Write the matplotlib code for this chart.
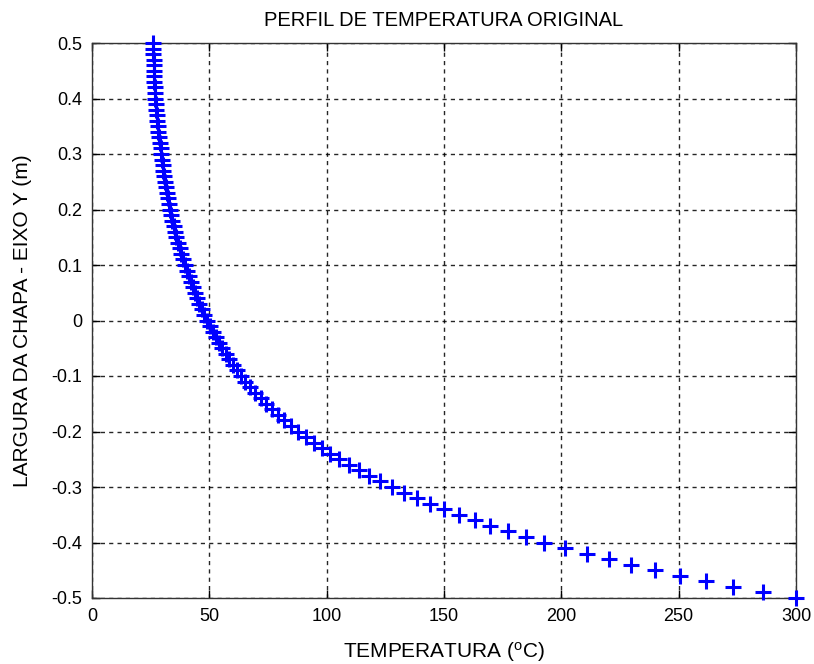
import matplotlib
matplotlib.use("Agg")
import matplotlib.pyplot as plt

plt.rcParams['font.family'] = ['Liberation Sans', 'DejaVu Sans']

# Plate width positions (m), from -0.5 to 0.5 in steps of 0.01
largura = [round(-0.5 + 0.01 * i, 2) for i in range(101)]

# Temperature (°C), bottom (-0.5) to top (0.5)
temp_seg1 = [300.0, 285.8, 273.3, 261.6, 250.5, 239.8, 229.6, 220.1, 210.8, 201.6]
temp_seg2 = [192.8, 184.8, 177.2, 169.8, 163.0, 156.4, 150.2, 144.2, 138.5, 133.0]
temp_seg3 = [127.8, 122.9, 118.2, 113.7, 109.5, 105.4, 101.6, 97.9, 94.4, 91.1]
temp_seg4 = [87.9, 84.9, 82.0, 79.3, 76.7, 74.2, 71.9, 69.6, 67.5, 65.4]
temp_seg5 = [63.5, 61.7, 60.0, 58.4, 56.9, 55.4, 54.0, 52.7, 51.4, 50.2]
temp_seg6 = [49.1, 47.9, 46.8, 45.7, 44.7, 43.8, 42.9, 42.0, 41.2, 40.4]
temp_seg7 = [39.6, 38.8, 38.0, 37.3, 36.6, 36.0, 35.4, 34.8, 34.3, 33.8]
temp_seg8 = [33.3, 32.8, 32.3, 31.9, 31.5, 31.1, 30.7, 30.4, 30.1, 29.8]
temp_seg9 = [29.5, 29.2, 28.9, 28.6, 28.3, 28.1, 27.8, 27.6, 27.3, 27.1]
temp_seg10 = [26.9, 26.8, 26.7, 26.6, 26.5, 26.4, 26.35, 26.3, 26.2, 26.15, 26.1]
temperatura = (temp_seg1 + temp_seg2 + temp_seg3 + temp_seg4 + temp_seg5 +
               temp_seg6 + temp_seg7 + temp_seg8 + temp_seg9 + temp_seg10)

x_ticks = [0, 50, 100, 150, 200, 250, 300]
y_ticks = [-0.5, -0.4, -0.3, -0.2, -0.1, 0, 0.1, 0.2, 0.3, 0.4, 0.5]
y_tick_labels = ['-0.5', '-0.4', '-0.3', '-0.2', '-0.1', '0', '0.1', '0.2', '0.3', '0.4', '0.5']

fig = plt.figure(figsize=(8.14, 6.64), dpi=100)
ax = fig.add_axes([92 / 814, 1 - 598 / 664, (796 - 92) / 814, (598 - 43) / 664])

ax.plot(temperatura, largura, linestyle='none', marker='+', color='#0000ff',
        markersize=11, markeredgewidth=2.2, clip_on=False, zorder=3)

ax.set_xlim(0, 300)
ax.set_ylim(-0.5, 0.5)
ax.set_xticks(x_ticks)
ax.set_xticklabels([str(v) for v in x_ticks])
ax.set_yticks(y_ticks)
ax.set_yticklabels(y_tick_labels)

ax.grid(True, color='black', linestyle=(0, (3, 3)), linewidth=1.0, alpha=0.85)
ax.tick_params(direction='in', top=True, right=True, length=6, width=1,
               labelsize=13, colors='black', pad=7)
for s in ax.spines.values():
    s.set_linewidth(1.0)
    s.set_color('#333333')

ax.set_title('PERFIL DE TEMPERATURA ORIGINAL', fontsize=14.5, pad=12)
ax.set_xlabel('TEMPERATURA ($\\mathregular{^{o}}$C)', fontsize=15, labelpad=11)
ax.set_ylabel('LARGURA DA CHAPA - EIXO Y (m)', fontsize=15, labelpad=14)

fig.savefig('out.png', dpi=100)
